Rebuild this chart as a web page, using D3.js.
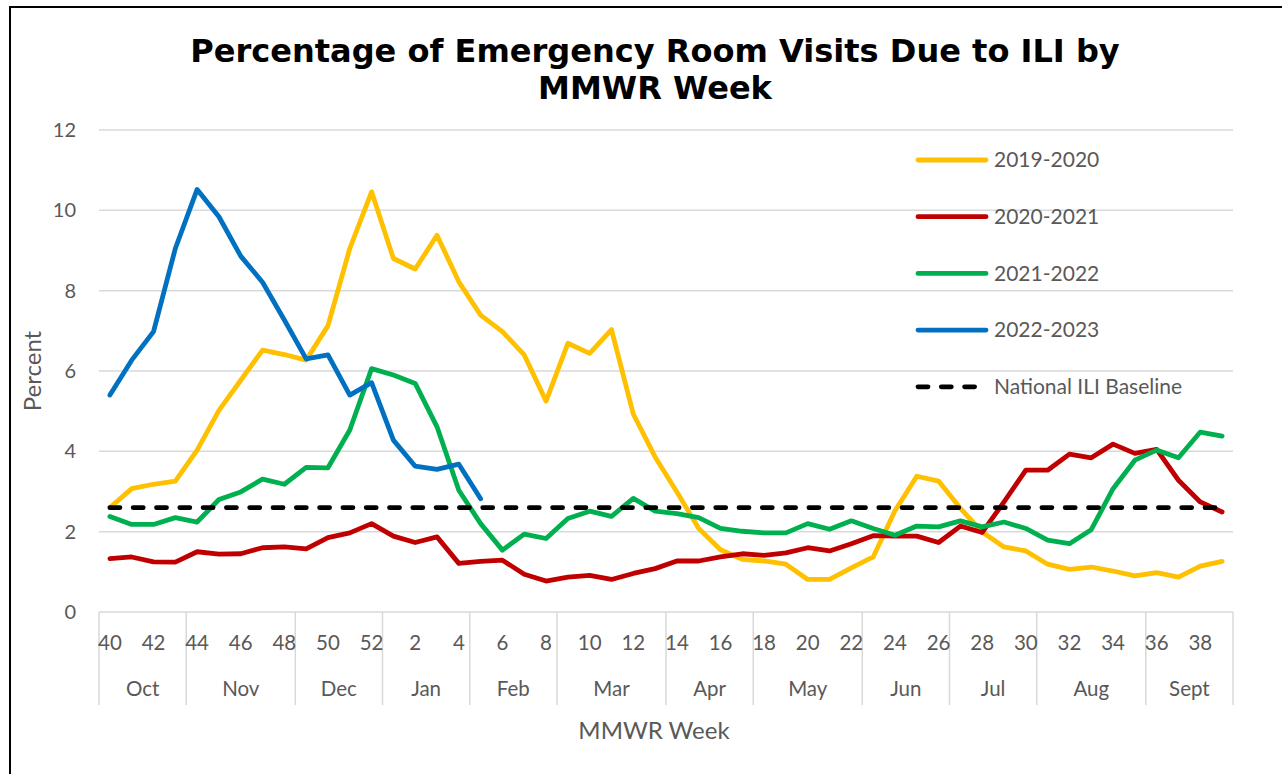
<!DOCTYPE html>
<html>
<head>
<meta charset="utf-8">
<script src="https://cdn.jsdelivr.net/npm/d3@7.9.0/dist/d3.min.js"></script>
<style>
  body { margin: 0; background: #fff; }
  svg text { font-family: Lato, "Open Sans", sans-serif; fill: #595959; }
</style>
</head>
<body>
<svg id="chart" width="1282" height="774"></svg>
<script>
// --- data ---
const weeks = [40, 41, 42, 43, 44, 45, 46, 47, 48, 49, 50, 51, 52,
  1, 2, 3, 4, 5, 6, 7, 8, 9, 10, 11, 12, 13, 14, 15, 16, 17, 18, 19, 20,
  21, 22, 23, 24, 25, 26, 27, 28, 29, 30, 31, 32, 33, 34, 35, 36, 37, 38, 39];
const weekLabels = [40, 42, 44, 46, 48, 50, 52, 2, 4, 6, 8, 10, 12, 14, 16, 18, 20,
  22, 24, 26, 28, 30, 32, 34, 36, 38];
const months = ['Oct', 'Nov', 'Dec', 'Jan', 'Feb', 'Mar', 'Apr', 'May', 'Jun', 'Jul', 'Aug', 'Sept'];
const monthWeeks = [4, 5, 4, 4, 4, 5, 4, 5, 4, 4, 5, 4];
const yTicks = [0, 2, 4, 6, 8, 10, 12];

const season1920 = [2.60, 3.07, 3.18, 3.26, 4.03, 5.02, 5.77, 6.52, 6.41, 6.27, 7.13, 9.05, 10.46,
  8.80, 8.54, 9.38, 8.22, 7.39, 6.98, 6.40, 5.25, 6.69, 6.44,
  7.03, 4.93, 3.86, 2.99, 2.08, 1.55, 1.31, 1.27, 1.19, 0.81,
  0.81, 1.10, 1.37, 2.52, 3.38, 3.26, 2.58, 1.99, 1.62, 1.52,
  1.19, 1.06, 1.12, 1.02, 0.90, 0.98, 0.87, 1.14, 1.26];
const season2021 = [1.33, 1.37, 1.25, 1.24, 1.50, 1.44, 1.45, 1.60, 1.62, 1.57, 1.85, 1.97, 2.20,
  1.89, 1.73, 1.87, 1.21, 1.26, 1.29, 0.94, 0.77, 0.87, 0.91,
  0.81, 0.96, 1.08, 1.27, 1.27, 1.37, 1.45, 1.41, 1.47, 1.60,
  1.52, 1.70, 1.90, 1.89, 1.89, 1.73, 2.14, 1.98, 2.74, 3.53,
  3.53, 3.93, 3.84, 4.18, 3.95, 4.05, 3.28, 2.74, 2.49];
const season2122 = [2.38, 2.18, 2.18, 2.35, 2.24, 2.80, 2.99, 3.31, 3.18, 3.60, 3.59, 4.53, 6.06,
  5.90, 5.69, 4.61, 3.03, 2.20, 1.54, 1.94, 1.83, 2.33, 2.51,
  2.38, 2.83, 2.51, 2.45, 2.35, 2.08, 2.01, 1.97, 1.97, 2.20,
  2.06, 2.27, 2.08, 1.91, 2.14, 2.12, 2.27, 2.12, 2.24, 2.08,
  1.79, 1.70, 2.05, 3.07, 3.78, 4.03, 3.84, 4.48, 4.38];
const season2223 = [5.40, 6.27, 6.98, 9.05, 10.52, 9.84, 8.86, 8.21, 7.27, 6.30, 6.40, 5.40, 5.71,
  4.28, 3.63, 3.55, 3.68, 2.82];
const baselineValue = 2.6;

const seriesNames = ['2019-2020', '2020-2021', '2021-2022', '2022-2023'];
const seriesColors = ['#FFC000', '#C00000', '#00B050', '#0070C0'];
const seriesValues = [season1920, season2021, season2122, season2223];

// --- layout ---
const svg = d3.select('#chart');
const x = d3.scaleBand().domain(weeks).range([99, 1233]).padding(0);
const y = d3.scaleLinear().domain([0, 12]).range([612, 130]);
const cx = w => x(w) + x.bandwidth() / 2;

// chart border (right/bottom edges fall outside the picture)
svg.append('rect')
  .attr('x', 10).attr('y', 7).attr('width', 1290).attr('height', 790)
  .attr('fill', 'none').attr('stroke', '#000').attr('stroke-width', 2);

// title
const title = svg.append('text')
  .attr('text-anchor', 'middle')
  .style('font-family', '"DejaVu Sans", Verdana, sans-serif')
  .style('font-weight', 'bold')
  .style('fill', '#000')
  .style('font-size', '30px');
title.append('tspan').attr('x', 655).attr('y', 62).text('Percentage of Emergency Room Visits Due to ILI by');
title.append('tspan').attr('x', 655).attr('y', 99).text('MMWR Week');
const w1 = title.select('tspan').node().getComputedTextLength();
title.style('font-size', (30 * 930 / w1) + 'px');

// gridlines
svg.append('g').selectAll('line')
  .data(yTicks.filter(d => d > 0))
  .join('line')
  .attr('x1', 99).attr('x2', 1233)
  .attr('y1', d => y(d)).attr('y2', d => y(d))
  .attr('stroke', '#d9d9d9').attr('stroke-width', 1.5);

// y tick labels
svg.append('g').selectAll('text')
  .data(yTicks)
  .join('text')
  .attr('x', 76).attr('y', d => y(d))
  .attr('dy', '0.35em')
  .attr('text-anchor', 'end')
  .style('font-size', '20px')
  .text(d => d);

// x axis line + month separators
svg.append('line')
  .attr('x1', 99).attr('x2', 1233).attr('y1', y(0)).attr('y2', y(0))
  .attr('stroke', '#d9d9d9').attr('stroke-width', 1.5);

const monthStarts = [];
let idx = 0;
monthWeeks.forEach(n => { monthStarts.push(idx); idx += n; });
const sepX = monthStarts.map(i => x(weeks[i])).concat([x(weeks[weeks.length - 1]) + x.bandwidth()]);
svg.append('g').selectAll('line')
  .data(sepX)
  .join('line')
  .attr('x1', d => d).attr('x2', d => d)
  .attr('y1', y(0)).attr('y2', 705)
  .attr('stroke', '#d9d9d9').attr('stroke-width', 1.5);

// week labels
svg.append('g').selectAll('text')
  .data(weekLabels)
  .join('text')
  .attr('x', d => cx(d)).attr('y', 643)
  .attr('dy', '0.35em')
  .attr('text-anchor', 'middle')
  .style('font-size', '20.5px')
  .text(d => d);

// month labels
svg.append('g').selectAll('text')
  .data(months)
  .join('text')
  .attr('x', (d, i) => (sepX[i] + sepX[i + 1]) / 2).attr('y', 689)
  .attr('dy', '0.35em')
  .attr('text-anchor', 'middle')
  .style('font-size', '20.5px')
  .text(d => d);

// axis titles
svg.append('text')
  .attr('x', 654).attr('y', 731).attr('dy', '0.35em')
  .attr('text-anchor', 'middle')
  .style('font-size', '24px')
  .text('MMWR Week');
svg.append('text')
  .attr('transform', `translate(33,${371}) rotate(-90)`)
  .attr('dy', '0.35em')
  .attr('text-anchor', 'middle')
  .style('font-size', '24px')
  .text('Percent');

// series lines
const line = d3.line().x((d, i) => cx(weeks[i])).y(d => y(d));
seriesValues.forEach((vals, i) => {
  svg.append('path')
    .datum(vals)
    .attr('d', line)
    .attr('fill', 'none')
    .attr('stroke', seriesColors[i])
    .attr('stroke-width', 4.8)
    .attr('stroke-linejoin', 'round')
    .attr('stroke-linecap', 'round');
});

// baseline
svg.append('path')
  .datum(weeks.map(() => baselineValue))
  .attr('d', line)
  .attr('fill', 'none')
  .attr('stroke', '#000')
  .attr('stroke-width', 4.8)
  .attr('stroke-dasharray', '10,13.3')
  .attr('stroke-linecap', 'round');

// legend
const legendItems = seriesNames.map((n, i) => ({ name: n, color: seriesColors[i], dash: null }))
  .concat([{ name: 'National ILI Baseline', color: '#000', dash: '10,13.3' }]);
const legend = svg.append('g').selectAll('g')
  .data(legendItems)
  .join('g')
  .attr('transform', (d, i) => `translate(0,${160 + i * 56.7})`);
legend.append('line')
  .attr('x1', 918).attr('x2', 986)
  .attr('stroke', d => d.color)
  .attr('stroke-width', 4.8)
  .attr('stroke-linecap', 'round')
  .attr('stroke-dasharray', d => d.dash);
legend.append('text')
  .attr('x', 994).attr('dy', '0.35em')
  .style('font-size', '21px')
  .text(d => d.name);
</script>
</body>
</html>
